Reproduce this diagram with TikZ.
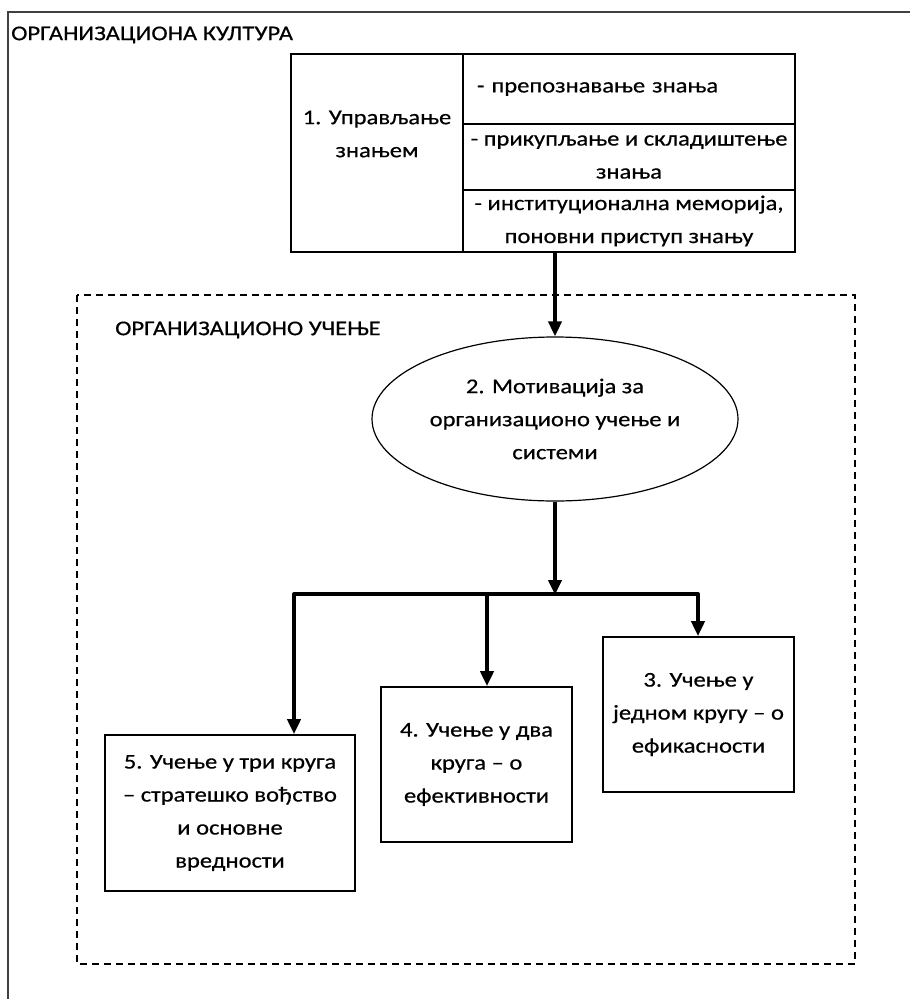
\documentclass[tikz,border=0pt]{standalone}
\usepackage{fontspec}
\setmainfont{Carlito}[FakeStretch=1.17, FakeBold=0.5]
\usetikzlibrary{arrows.meta,shapes.geometric}
\begin{document}
\begin{tikzpicture}[x=1pt,y=-1pt,
  every node/.style={font=\fontsize{21}{33}\selectfont, inner sep=0pt, align=center},
  panel/.style={draw, line width=1.6pt},
  frame/.style={draw=black!75, line width=2.2pt},
  zone/.style={draw, line width=1.4pt, dash pattern=on 7pt off 5pt},
  flow/.style={line width=4pt, -{Triangle[length=15pt,width=13pt]}},
  bus/.style={line width=4pt, line join=round,
    {Triangle[length=15pt,width=13pt]}-{Triangle[length=15pt,width=13pt]}}
]
\useasboundingbox (0,0) rectangle (910,999);

% outer frame: organisational culture (runs off the page to the right and bottom)
\begin{scope}
  \clip (0,0) rectangle (910,999);
  \draw[frame] (8,12) rectangle (940,1030);
\end{scope}
\node[anchor=west] (culture) at (11,35) {ОРГАНИЗАЦИОНА КУЛТУРА};

% knowledge management table
\node[panel, minimum width=172pt, minimum height=198pt] (km) at (377,153) {};
\node (kmtext) at (377,134) {\fontsize{21}{31}\selectfont 1. Управљање\\знањем};
\node[panel, minimum width=332pt, minimum height=70pt, text width=304pt,
      align=left, inner xsep=14pt] (k1) at (629,89) {- препознавање знања};
\node[panel, minimum width=332pt, minimum height=66pt] (k2) at (629,157)
  {\fontsize{21}{27}\selectfont - прикупљање и складиштење\\знања};
\node[panel, minimum width=332pt, minimum height=62pt] (k3) at (629,221)
  {\fontsize{21}{26}\selectfont - институционална меморија,\\поновни приступ знању};

% dashed zone: organisational learning
\draw[zone] (77,295) rectangle (855,964);
\node[anchor=west] (learning) at (115,330) {ОРГАНИЗАЦИОНО УЧЕЊЕ};

% motivation ellipse
\node[ellipse, draw, line width=1.2pt, minimum width=366pt, minimum height=164pt]
  (mot) at (555,419) {2. Мотивација за\\организационо учење и\\системи};

% learning loops
\node[panel, minimum width=250pt, minimum height=156pt] (b5) at (230,813)
  {5. Учење у три круга\\– стратешко вођство\\и основне\\вредности};
\node[panel, minimum width=191pt, minimum height=155pt] (b4) at (476.5,764.5)
  {4. Учење у два\\круга – о\\ефективности};
\node[panel, minimum width=191pt, minimum height=155pt] (b3) at (698.5,714.5)
  {3. Учење у\\једном кругу – о\\ефикасности};

% connectors
\coordinate (busL) at (294,594);
\coordinate (busM) at (487,594);
\coordinate (busR) at (698,594);
\draw[flow] (mot.north |- km.south) -- (mot.north);
\draw[flow, shorten >=-1pt] (mot.south) -- (mot.south |- busL);
\draw[bus] (busL |- b5.north) -- (busL) -- (busR) -- (busR |- b3.north);
\draw[flow] (busM) -- (busM |- b4.north);
\end{tikzpicture}
\end{document}
